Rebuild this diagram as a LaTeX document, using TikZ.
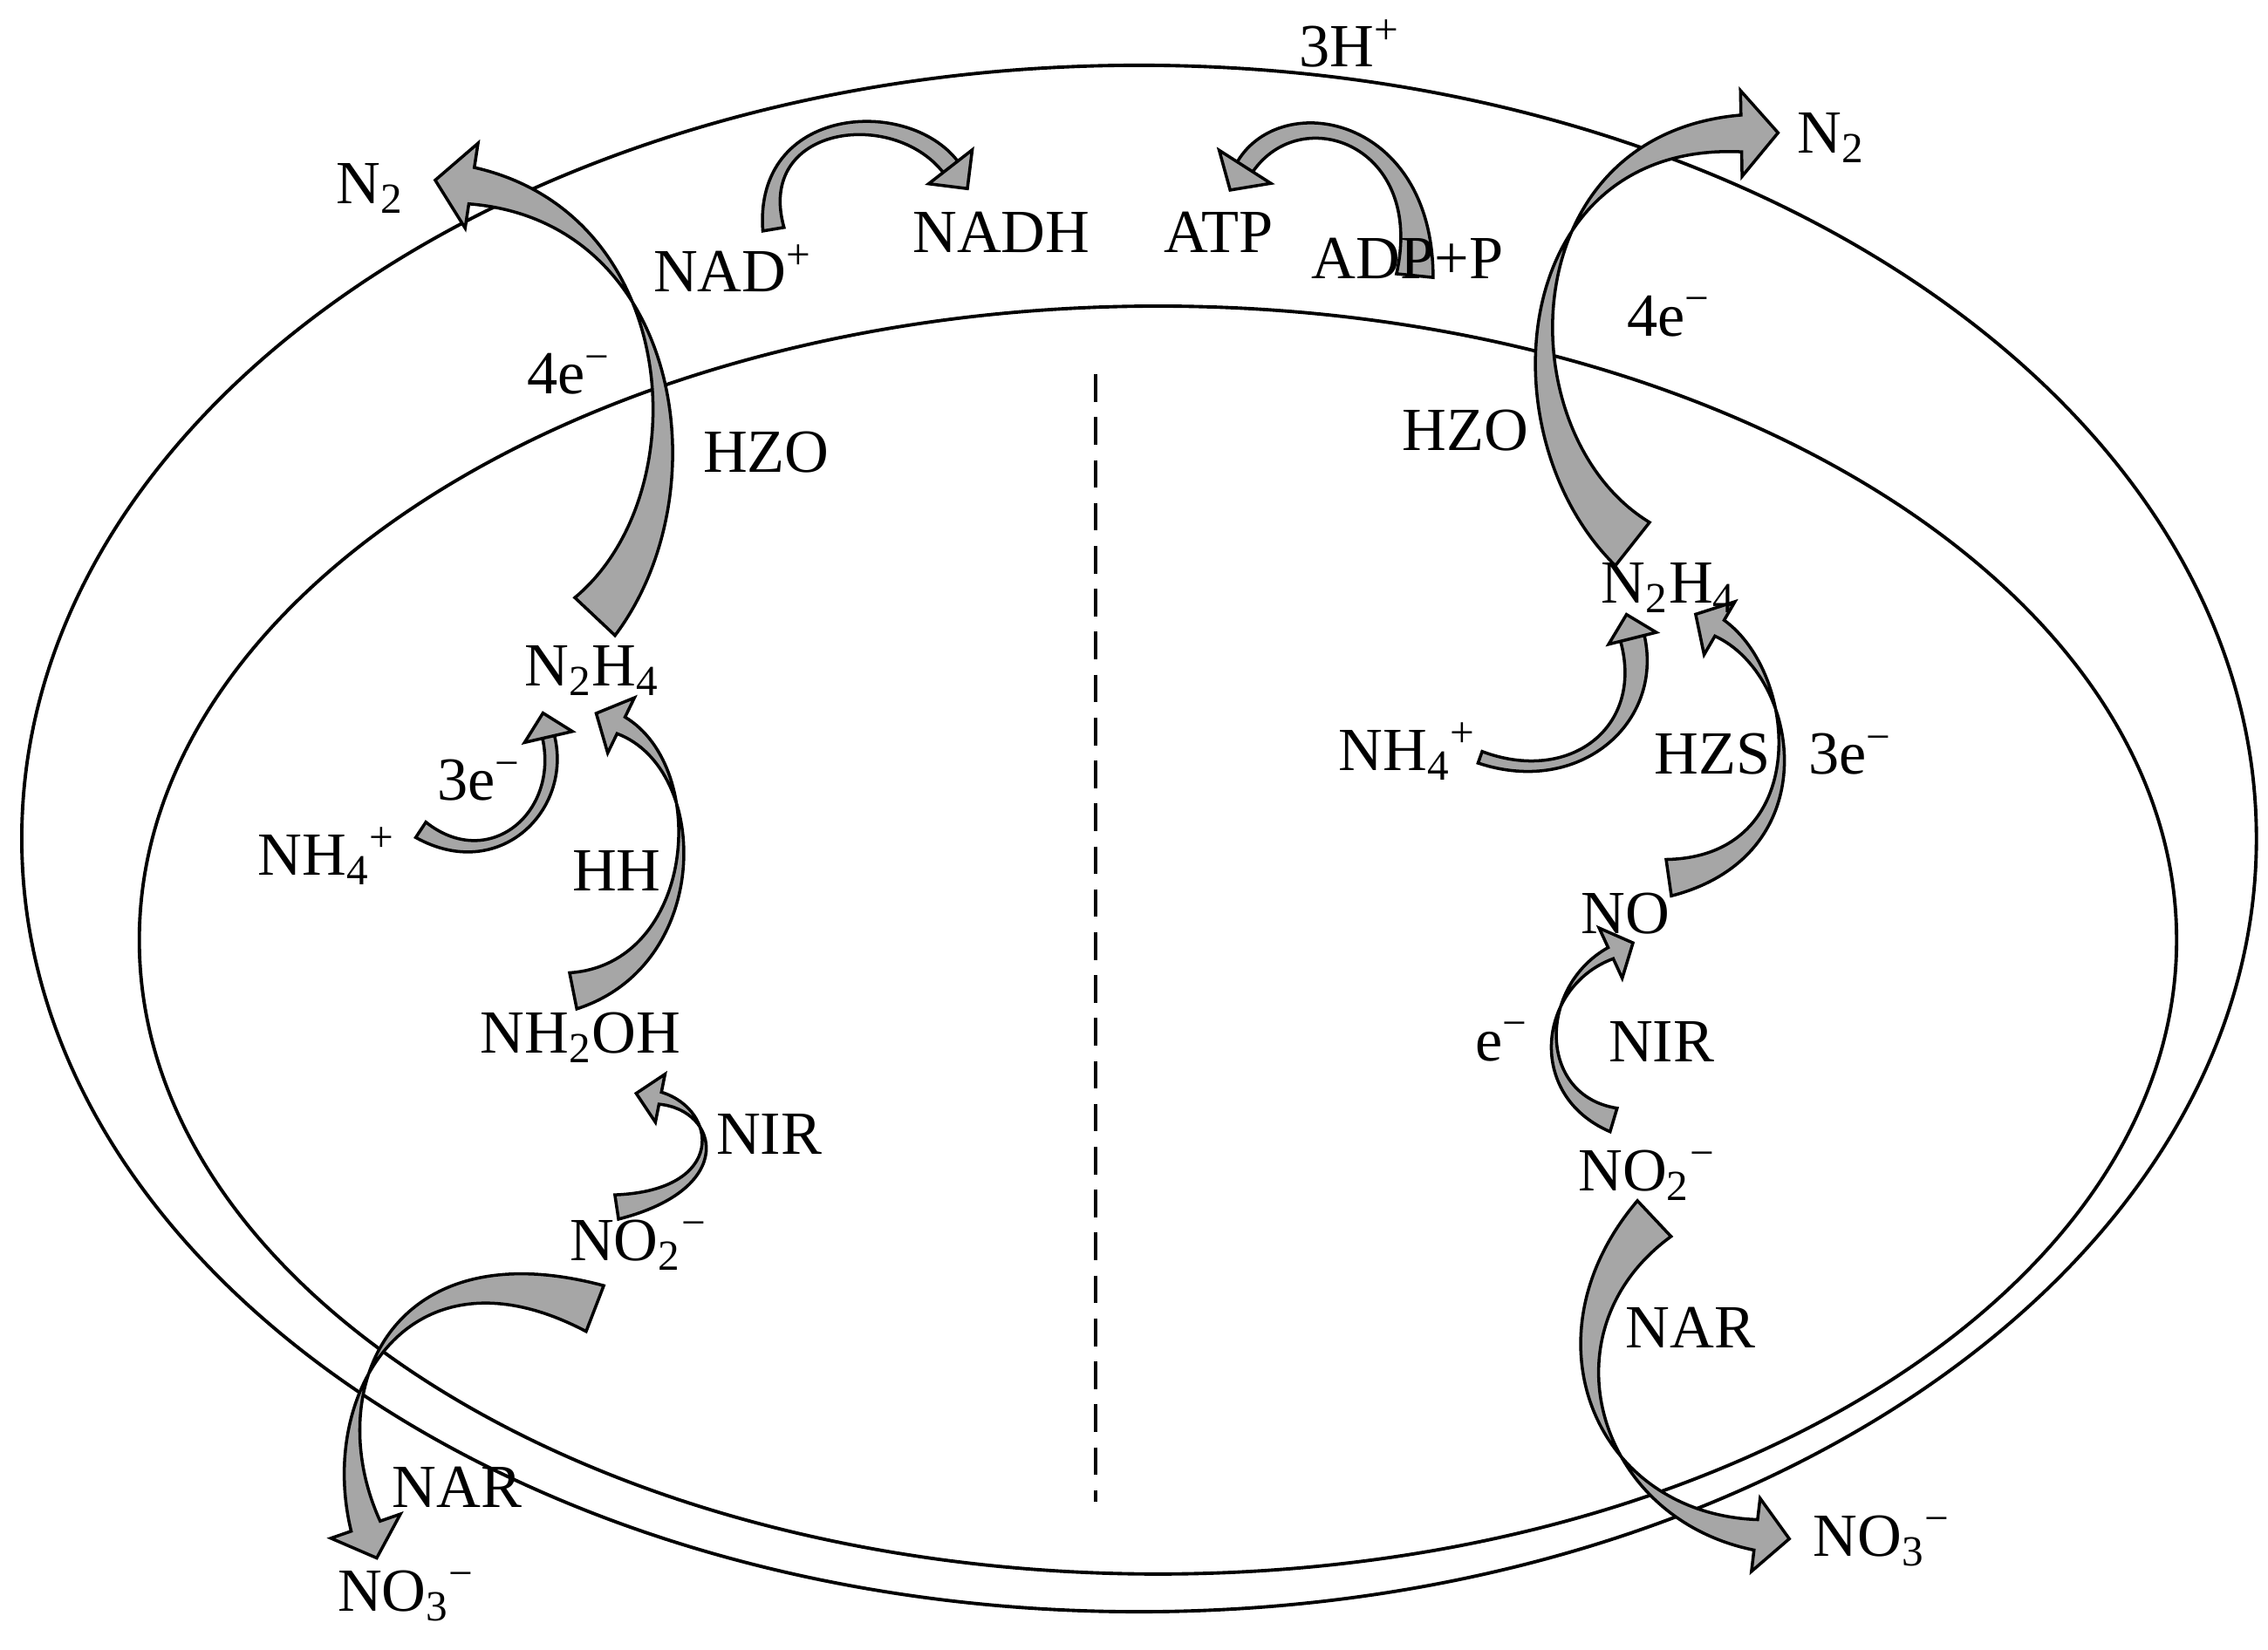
\documentclass[tikz,border=0pt]{standalone}
\usepackage{fontspec}
\setmainfont{Liberation Serif}
\usetikzlibrary{calc}
\tikzset{
  lbl/.style={font=\fontsize{20}{24}\selectfont, inner sep=1pt},
  rim/.style={line width=1.1pt},
  blk/.style={fill=black!35, draw=black, line width=1pt, line join=miter},
}
% twisted block arrow: start, control 1, control 2, end, start and end half widths (pt), head half width, head length
\newcommand{\twarrow}[8]{%
  \pgfmathsetmacro\sa{#5+(#6-#5)/3}%
  \pgfmathsetmacro\sb{#5+2*(#6-#5)/3}%
  \coordinate (q0) at (#1); \coordinate (q1) at #2;
  \coordinate (q2) at #3;   \coordinate (q3) at (#4);
  \draw[blk] ($(q0)!#5pt!90:(q1)$) .. controls ($(q1)!\sa pt!90:(q2)$) and ($(q2)!\sb pt!90:(q3)$) .. ($(q3)!#6pt!-90:(q2)$)
    -- ($(q3)!#7pt!90:(q2)$) -- ($(q3)!-#8pt!(q2)$) -- ($(q3)!#7pt!-90:(q2)$)
    -- ($(q3)!-#6pt!-90:(q2)$) .. controls ($(q2)!-\sb pt!90:(q3)$) and ($(q1)!-\sa pt!90:(q2)$) .. ($(q0)!-#5pt!90:(q1)$) -- cycle;
}

\begin{document}
\begin{tikzpicture}[x=0.01663cm, y=-0.01663cm]
\useasboundingbox (0,0) rectangle (1563,1137);

\draw[rim] (785,578) ellipse [x radius=770, y radius=533];
\draw[rim] (798,648) ellipse [x radius=702, y radius=437];
\draw[rim, dash pattern=on 9pt off 5pt] (755,258) -- (755,1035);

% arrow ends
\coordinate (a1) at (410,425);  \coordinate (b1) at (325,128);
\coordinate (a2) at (533,158);  \coordinate (b2) at (655,115);
\coordinate (a3) at (975,190);  \coordinate (b3) at (858,115);
\coordinate (a4) at (1125,375); \coordinate (b4) at (1200,92);
\coordinate (a5) at (1020,522); \coordinate (b5) at (1125,440);
\coordinate (a6) at (1150,605); \coordinate (b6) at (1185,433);
\coordinate (a7) at (1112,772); \coordinate (b7) at (1110,657);
\coordinate (a8) at (1140,840); \coordinate (b8) at (1210,1058);
\coordinate (a9) at (290,572);  \coordinate (b9) at (378,508);
\coordinate (a10) at (395,683); \coordinate (b10) at (428,500);
\coordinate (a11) at (425,832); \coordinate (b11) at (455,757);
\coordinate (a12) at (410,902); \coordinate (b12) at (252,1052);

\twarrow{a1}{(490,340)}{(470,150)}{b1}{9}{-6}{14}{12}
\twarrow{a2}{(520,80)}{(620,70)}{b2}{3.5}{3}{9}{9}
\twarrow{a3}{(985,90)}{(890,65)}{b3}{6}{3}{10}{9}
\twarrow{a4}{(1030,300)}{(1040,95)}{b4}{9}{-6}{14}{12}
\twarrow{a5}{(1085,545)}{(1140,500)}{b5}{2}{4}{8}{8}
\twarrow{a6}{(1255,590)}{(1240,465)}{b6}{6}{-3}{10}{9}
\twarrow{a7}{(1055,755)}{(1060,680)}{b7}{4}{-2}{9}{8}
\twarrow{a8}{(1055,920)}{(1100,1045)}{b8}{8}{-5}{12}{11}
\twarrow{a9}{(340,605)}{(390,560)}{b9}{3}{2}{8}{8}
\twarrow{a10}{(485,665)}{(490,530)}{b10}{6}{-3}{10}{9}
\twarrow{a11}{(505,820)}{(495,765)}{b11}{4}{-2}{8}{8}
\twarrow{a12}{(275,850)}{(220,960)}{b12}{8}{-5}{12}{11}

% labels
\node[lbl] (n2l) at (255,130) {N\textsubscript{2}};
\node[lbl] (nad) at (505,185) {NAD\textsuperscript{+}};
\node[lbl] (nadh) at (690,160) {NADH};
\node[lbl] (h) at (930,30) {3H\textsuperscript{+}};
\node[lbl] (atp) at (840,160) {ATP};
\node[lbl] (adp) at (970,178) {ADP+P};
\node[lbl] (n2r) at (1262,95) {N\textsubscript{2}};
\node[lbl] (el4l) at (392,258) {4e\textsuperscript{−}};
\node[lbl] (hzol) at (528,312) {HZO};
\node[lbl] (el4r) at (1150,218) {4e\textsuperscript{−}};
\node[lbl] (hzor) at (1010,297) {HZO};
\node[lbl] (n2h4l) at (408,462) {N\textsubscript{2}H\textsubscript{4}};
\node[lbl] (el3l) at (330,538) {3e\textsuperscript{−}};
\node[lbl] (nh4l) at (225,590) {NH\textsubscript{4}\textsuperscript{+}};
\node[lbl] (hh) at (425,600) {HH};
\node[lbl] (nh2oh) at (400,715) {NH\textsubscript{2}OH};
\node[lbl] (nirl) at (530,782) {NIR};
\node[lbl] (no2l) at (440,858) {NO\textsubscript{2}\textsuperscript{−}};
\node[lbl] (narl) at (315,1025) {NAR};
\node[lbl] (no3l) at (280,1100) {NO\textsubscript{3}\textsuperscript{−}};
\node[lbl] (n2h4r) at (1150,405) {N\textsubscript{2}H\textsubscript{4}};
\node[lbl] (nh4r) at (970,518) {NH\textsubscript{4}\textsuperscript{+}};
\node[lbl] (hzs) at (1180,520) {HZS};
\node[lbl] (el3r) at (1275,520) {3e\textsuperscript{−}};
\node[lbl] (no) at (1120,630) {NO};
\node[lbl] (el1r) at (1035,718) {e\textsuperscript{−}};
\node[lbl] (nirr) at (1145,718) {NIR};
\node[lbl] (no2r) at (1135,810) {NO\textsubscript{2}\textsuperscript{−}};
\node[lbl] (narr) at (1165,915) {NAR};
\node[lbl] (no3r) at (1297,1062) {NO\textsubscript{3}\textsuperscript{−}};
\end{tikzpicture}
\end{document}
